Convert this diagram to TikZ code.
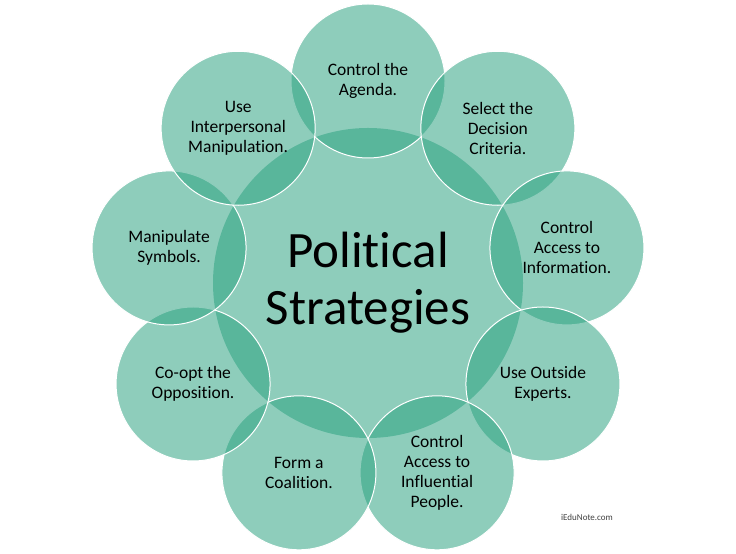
\documentclass[tikz,border=0pt]{standalone}
\usepackage{fontspec}
\setmainfont[Ligatures=NoCommon]{Carlito}
\usetikzlibrary{positioning,calc}
\definecolor{stratteal}{RGB}{42,161,127}

\begin{document}
\begin{tikzpicture}[
  x=1bp, y=1bp,
  hub/.style={circle, fill=stratteal, fill opacity=0.53, text opacity=1,
    minimum size=310bp, inner sep=0pt, align=center,
    font=\fontsize{51bp}{57bp}\selectfont},
  petal/.style={circle, fill=stratteal, fill opacity=0.53, text opacity=1,
    draw=white, draw opacity=1, line width=1bp,
    minimum size=154bp, inner sep=0pt, align=center,
    font=\fontsize{17.5bp}{20bp}\selectfont}
]
% ---- Page frame (736 x 554, origin bottom left) ----
\useasboundingbox (0,0) rectangle (736,554);

% ---- Central circle ----
\node[hub] (hub) at (368,271) {Political\\Strategies};

% ---- Nine strategy circles, 40 degrees apart, 202 from the hub centre ----
\foreach \ang/\name/\txt in {
    90/agenda/{Control the\\Agenda.},
    50/criteria/{Select the\\Decision\\Criteria.},
    10/information/{Control\\Access to\\Information.},
    -30/experts/{Use Outside\\Experts.},
    -70/influential/{Control\\Access to\\Influential\\People.},
    -110/coalition/{Form a\\Coalition.},
    -150/coopt/{Co-opt the\\Opposition.},
    170/symbols/{Manipulate\\Symbols.},
    130/interpersonal/{Use\\Interpersonal\\Manipulation.}} {
  \node[petal] (\name) at ($(hub.center)+(\ang:202)$) {\txt};
}

% ---- Source note ----
\node[font=\fontsize{9bp}{11bp}\selectfont, text=black!75] (credit) at (587,37) {iEduNote.com};

\end{tikzpicture}
\end{document}
